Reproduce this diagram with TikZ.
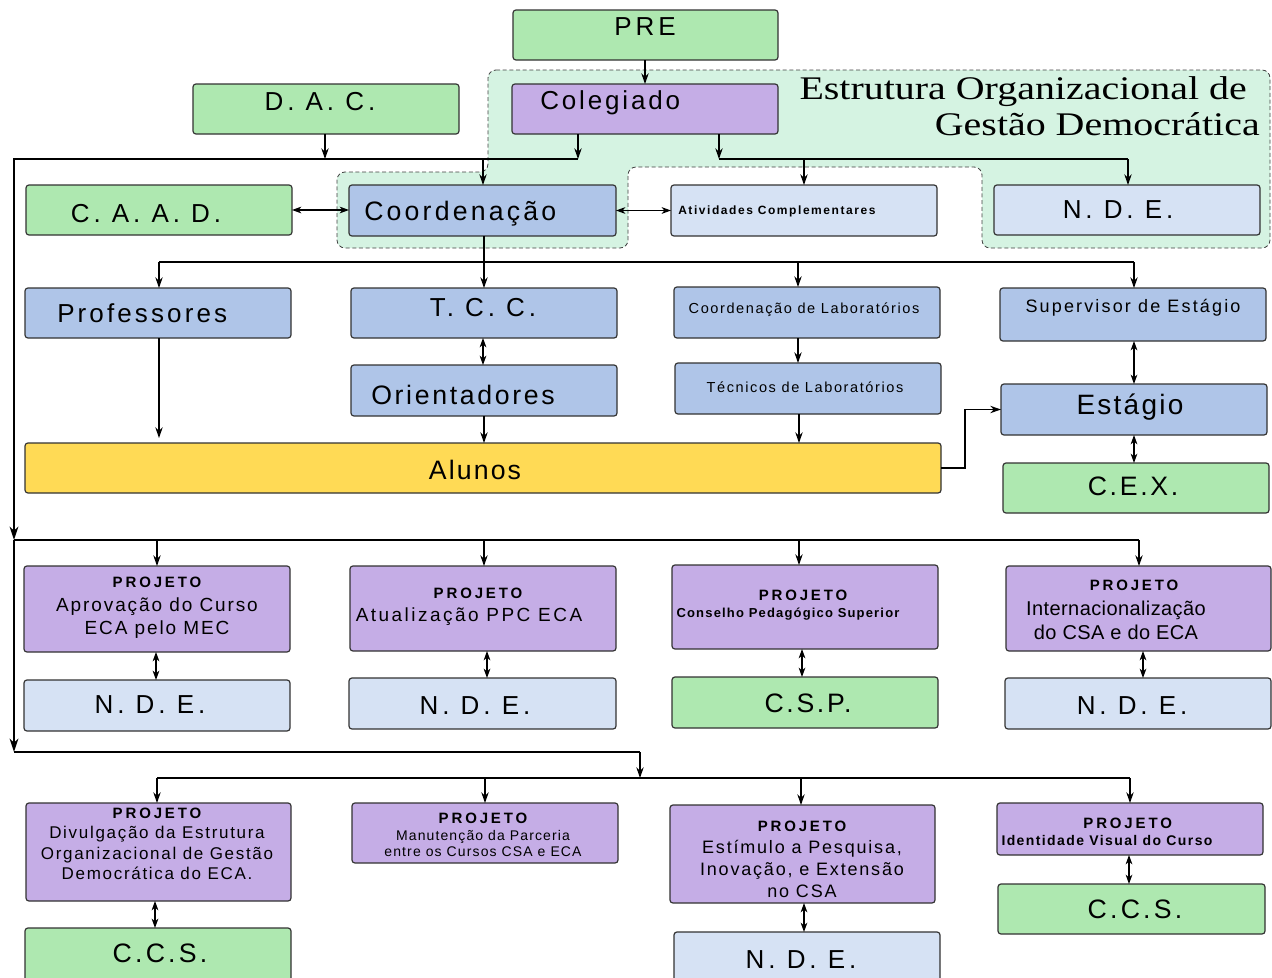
\documentclass[tikz,border=0pt]{standalone}
\usepackage{fontspec}
\newfontfamily\ssf{Liberation Sans}
\newfontfamily\ttl{Liberation Serif}[FakeStretch=1.21]
\usetikzlibrary{arrows.meta}
\definecolor{cgreen}{RGB}{174,232,176}
\definecolor{cpurple}{RGB}{197,173,230}
\definecolor{cblue}{RGB}{175,197,232}
\definecolor{cpale}{RGB}{214,226,244}
\definecolor{cyellow}{RGB}{255,218,85}
\definecolor{cregion}{RGB}{213,243,226}
\definecolor{bdr}{RGB}{50,50,50}
\newcommand\FS[3]{\ssf\fontsize{#1}{#2}\selectfont\addfontfeature{LetterSpace=#3}}
\newcommand\FB[3]{\ssf\bfseries\fontsize{#1}{#2}\selectfont\addfontfeature{LetterSpace=#3}}
\newcommand\bx[6]{\node[box,fill=#6,minimum width={0.75pt*(#4-#2)},minimum height={0.75pt*(#5-#3)}] (#1) at ({(#2+#4)/2},{(#3+#5)/2}) {};}
\begin{document}
\begin{tikzpicture}[x=0.75pt,y=-0.75pt,
  box/.style={draw=bdr,line width=0.9pt,rounded corners=2.2pt,inner sep=0pt,outer sep=0pt},
  txt/.style={inner sep=0pt,text=black},
  ln/.style={line width=1pt,black},
  thk/.style={line width=2pt,black},
  arr/.style={ln,-{Stealth[length=8pt,width=5.5pt,inset=2.5pt]}},
  darr/.style={ln,{Stealth[length=7pt,width=5pt,inset=2pt]}-{Stealth[length=7pt,width=5pt,inset=2pt]}},
  tarr/.style={thk,-{Stealth[length=10pt,width=6.5pt,inset=3pt]}},
  ttlf/.style={txt,anchor=base east,font=\ttl\fontsize{24.75}{27}\selectfont}]
\useasboundingbox (0,0) rectangle (1272,978);
% background region
\draw[densely dashed,fill=cregion,rounded corners=6pt,line width=0.6pt,draw=black!75]
  (488,70) -- (1270,70) -- (1270,248) -- (982,248) -- (982,167) -- (628,167) -- (628,248)
  -- (337,248) -- (337,172) -- (488,172) -- cycle;
\node[ttlf] (title1) at (1247,99) {Estrutura Organizacional de};
\node[ttlf] (title2) at (1260,135) {Gestão Democrática};
% boxes
\bx{PRE}{513}{10}{778}{60}{cgreen}
\bx{DAC}{193}{84}{459}{134}{cgreen}
\bx{COL}{512}{84}{778}{134}{cpurple}
\bx{CAAD}{26}{185}{292}{235}{cgreen}
\bx{COORD}{349}{185}{616}{236}{cblue}
\bx{ATIV}{671}{185}{937}{236}{cpale}
\bx{NDE0}{994}{185}{1260}{235}{cpale}
\bx{PROF}{25}{288}{291}{338}{cblue}
\bx{TCC}{351}{288}{617}{338}{cblue}
\bx{CLAB}{674}{287}{940}{338}{cblue}
\bx{SUP}{1000}{288}{1266}{341}{cblue}
\bx{ORI}{351}{365}{617}{416}{cblue}
\bx{TLAB}{675}{363}{941}{414}{cblue}
\bx{EST}{1001}{384}{1267}{435}{cblue}
\bx{ALU}{25}{443}{941}{493}{cyellow}
\bx{CEX}{1003}{463}{1269}{513}{cgreen}
\bx{P1}{24}{566}{290}{652}{cpurple}
\bx{P2}{350}{566}{616}{651}{cpurple}
\bx{P3}{672}{565}{938}{649}{cpurple}
\bx{P4}{1006}{566}{1271}{651}{cpurple}
\bx{N1}{24}{680}{290}{731}{cpale}
\bx{N2}{349}{678}{616}{729}{cpale}
\bx{CSP}{672}{677}{938}{728}{cgreen}
\bx{N4}{1005}{678}{1271}{729}{cpale}
\bx{P5}{26}{803}{291}{901}{cpurple}
\bx{P6}{352}{803}{618}{863}{cpurple}
\bx{P7}{670}{805}{935}{903}{cpurple}
\bx{P8}{997}{803}{1263}{855}{cpurple}
\bx{CCS1}{25}{928}{291}{995}{cgreen}
\bx{N7}{674}{932}{940}{995}{cpale}
\bx{CCS2}{998}{884}{1265}{934}{cgreen}
% texts
\node[txt,font=\FS{19.5}{22}{15}] (tPRE) at (645,27) {PRE};
\node[txt,font=\FS{19.5}{22}{15}] (tDAC) at (320,102) {D. A. C.};
\node[txt,anchor=west,font=\FS{19.5}{22}{11}] (tCOL) at (540,103) {Colegiado};
\node[txt,font=\FS{19.5}{22}{15}] (tCAAD) at (146,214) {C. A. A. D.};
\node[txt,anchor=west,font=\FS{20}{22}{12}] (tCOORD) at (364,214) {Coordenação};
\node[txt,anchor=west,font=\FB{9}{11}{13}] (tATIV) at (678,211) {Atividades Complementares};
\node[txt,font=\FS{19.5}{22}{15}] (tNDE0) at (1118,210) {N. D. E.};
\node[txt,anchor=west,font=\FS{19.5}{22}{12}] (tPROF) at (57,313) {Professores};
\node[txt,font=\FS{19.5}{22}{15}] (tTCC) at (483,308) {T. C. C.};
\node[txt,font=\FS{10.9}{13}{11}] (tCLAB) at (804,310) {Coordenação de Laboratórios};
\node[txt,font=\FS{13.5}{16}{12}] (tSUP) at (1133,308) {Supervisor de Estágio};
\node[txt,anchor=west,font=\FS{20}{22}{10}] (tORI) at (371,395) {Orientadores};
\node[txt,font=\FS{10.9}{13}{11}] (tTLAB) at (805,387) {Técnicos de Laboratórios};
\node[txt,font=\FS{21}{24}{8}] (tEST) at (1130,407) {Estágio};
\node[txt,font=\FS{20}{22}{8}] (tALU) at (475,470) {Alunos};
\node[txt,font=\FS{20}{22}{10}] (tCEX) at (1133,486) {C.E.X.};
\node[txt,font=\FS{19.5}{22}{15}] (tN1) at (150,705) {N. D. E.};
\node[txt,font=\FS{19.5}{22}{15}] (tN2) at (475,706) {N. D. E.};
\node[txt,font=\FS{20}{22}{10}] (tCSP) at (808,703) {C.S.P.};
\node[txt,font=\FS{19.5}{22}{15}] (tN4) at (1132,706) {N. D. E.};
\node[txt,font=\FS{19.5}{22}{15}] (tN7) at (801,960) {N. D. E.};
\node[txt,font=\FS{20}{22}{12}] (tCCS1) at (160,953) {C.C.S.};
\node[txt,font=\FS{20}{22}{12}] (tCCS2) at (1135,909) {C.C.S.};
\node[txt,align=center,font=\FS{14.25}{17.6}{10}] (tP1) at (157,608)
  {{\FB{11.25}{17.6}{19}PROJETO}\\Aprovação do Curso\\ECA pelo MEC};
\node[txt,align=center,font=\FS{14.25}{17.6}{13}] (tP2) at (469,607)
  {{\FB{11.25}{17.6}{19}\hspace*{13.5pt}PROJETO}\\Atualização PPC ECA};
\node[txt,align=center,font=\FB{9.75}{13}{9}] (tP3) at (788,605)
  {{\FB{11.25}{13}{19}\hspace*{22.5pt}PROJETO}\\Conselho Pedagógico Superior};
\node[txt,align=center,font=\FS{15}{18.5}{2}] (tP4) at (1116,610)
  {{\FB{11.25}{18.5}{19}\hspace*{27pt}PROJETO}\\Internacionalização\\do CSA e do ECA};
\node[txt,align=center,font=\FS{12.75}{15.4}{10}] (tP5) at (157,844)
  {{\FB{11.25}{15.4}{19}PROJETO}\\Divulgação da Estrutura\\Organizacional de Gestão\\Democrática do ECA.};
\node[txt,align=center,font=\FS{10.5}{12.4}{8}] (tP6) at (483,835)
  {{\FB{11.25}{12.4}{19}PROJETO}\\Manutenção da Parceria\\entre os Cursos CSA e ECA};
\node[txt,align=center,font=\FS{13.5}{16.5}{10}] (tP7) at (802,859)
  {{\FB{11.25}{16.5}{19}PROJETO}\\Estímulo a Pesquisa,\\Inovação, e Extensão\\no CSA};
\node[txt,align=center,font=\FB{10.5}{12.7}{10}] (tP8) at (1107,832)
  {{\FB{11.25}{12.7}{19}\hspace*{31pt}PROJETO}\\Identidade Visual do Curso};
% connectors: top
\draw[arr] (645,0 |- PRE.south) -- (645,0 |- COL.north);
\coordinate (jD) at (325,159);
\coordinate (jC) at (578,159);
\coordinate (jL) at (14,159);
\coordinate (jR1) at (14,540);
\coordinate (jR2) at (14,752);
\draw[arr] (325,0 |- DAC.south) -- (jD);
\draw[arr] (578,0 |- COL.south) -- (jC);
\draw[tarr] (jC) -- (jL) -- (jR1);
\draw[tarr] (jR1) -- (jR2);
\draw[arr] (483,159) -- (483,0 |- COORD.north);
\coordinate (jA) at (719,159);
\draw[arr] (719,0 |- COL.south) -- (jA);
\draw[ln] (jA) -- (1128,159);
\draw[arr] (804,159) -- (804,0 |- ATIV.north);
\draw[arr] (1128,159) -- (1128,0 |- NDE0.north);
\draw[darr] (CAAD.east) -- (CAAD.east -| COORD.west);
\draw[darr] (COORD.east) -- (COORD.east -| ATIV.west);
% second level
\draw[arr] (484,0 |- COORD.south) -- (484,0 |- TCC.north);
\draw[ln] (159,262) -- (1134,262);
\draw[arr] (159,262) -- (159,0 |- PROF.north);
\draw[arr] (798,262) -- (798,0 |- CLAB.north);
\draw[arr] (1134,262) -- (1134,0 |- SUP.north);
\draw[darr] (483,0 |- TCC.south) -- (483,0 |- ORI.north);
\coordinate (pA) at (159,438);
\draw[arr] (159,0 |- PROF.south) -- (pA);
\draw[arr] (484,0 |- ORI.south) -- (484,0 |- ALU.north);
\draw[arr] (798,0 |- CLAB.south) -- (798,0 |- TLAB.north);
\draw[arr] (799,0 |- TLAB.south) -- (799,0 |- ALU.north);
\draw[darr] (1134,0 |- SUP.south) -- (1134,0 |- EST.north);
\draw[darr] (1134,0 |- EST.south) -- (1134,0 |- CEX.north);
\draw[arr] (ALU.east) -- (965,0 |- ALU.east) |- (EST.west);
% projects row 1
\draw[ln] (jR1) -- (1139,540);
\draw[arr] (157,540) -- (157,0 |- P1.north);
\draw[arr] (484,540) -- (484,0 |- P2.north);
\draw[arr] (799,540) -- (799,0 |- P3.north);
\draw[arr] (1139,540) -- (1139,0 |- P4.north);
\draw[darr] (156,0 |- P1.south) -- (156,0 |- N1.north);
\draw[darr] (487,0 |- P2.south) -- (487,0 |- N2.north);
\draw[darr] (802,0 |- P3.south) -- (802,0 |- CSP.north);
\draw[darr] (1143,0 |- P4.south) -- (1143,0 |- N4.north);
% projects row 2
\coordinate (jB) at (640,778);
\draw[ln] (jR2) -- (640,752);
\draw[arr] (640,752) -- (jB);
\draw[ln] (157,778) -- (1130,778);
\draw[arr] (157,778) -- (157,0 |- P5.north);
\draw[arr] (485,778) -- (485,0 |- P6.north);
\draw[arr] (801,778) -- (801,0 |- P7.north);
\draw[arr] (1130,778) -- (1130,0 |- P8.north);
\draw[darr] (155,0 |- P5.south) -- (155,0 |- CCS1.north);
\draw[darr] (804,0 |- P7.south) -- (804,0 |- N7.north);
\draw[darr] (1129,0 |- P8.south) -- (1129,0 |- CCS2.north);
\end{tikzpicture}
\end{document}
